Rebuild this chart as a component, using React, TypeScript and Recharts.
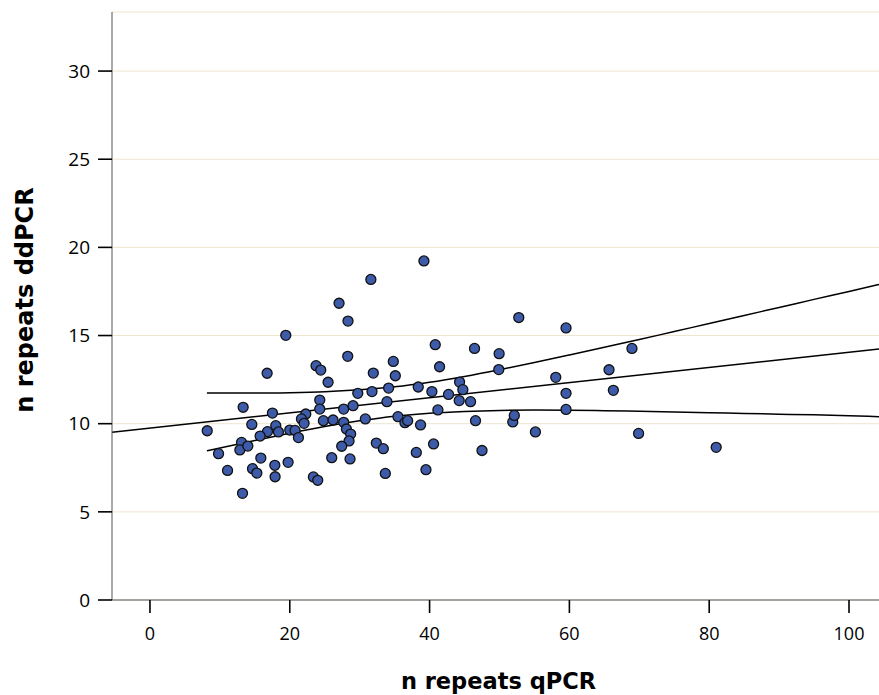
import React from "react";
import {
  ComposedChart,
  Scatter,
  Line,
  XAxis,
  YAxis,
  CartesianGrid,
  Label,
} from "recharts";

// qPCR repeat counts (x) and ddPCR repeat counts (y)
const qpcr: number[] = [
  31.6, 27.05, 28.33, 19.43, 28.29, 16.76, 23.76, 24.43, 25.48, 24.29,
  29.73, 13.33, 17.52, 22.29, 24.29, 27.71, 29.05, 21.67, 22.05, 30.81,
  8.19, 14.57, 18.0, 16.81, 15.76, 18.38, 20.0, 20.76, 21.24, 24.81,
  26.19, 27.71, 28.1, 28.71, 28.48, 27.43, 13.1, 12.86, 14.0, 9.81,
  15.86, 19.76, 17.86, 26.0, 28.62, 11.1, 14.67, 15.29, 17.9, 23.38,
  24.0, 13.24, 39.19, 52.76, 40.81, 46.43, 49.95, 34.81, 41.43, 31.95,
  35.1, 49.9, 44.29, 44.76, 31.76, 34.14, 38.38, 40.33, 42.71, 44.24,
  45.86, 33.9, 41.19, 35.48, 36.48, 36.86, 38.71, 46.57, 51.9, 52.12,
  55.14, 32.38, 33.38, 38.1, 40.57, 47.5, 33.67, 39.48, 59.52, 68.95,
  58.05, 65.67, 59.52, 66.29, 59.52, 69.9, 81.0,
];
const ddpcr: number[] = [
  18.18, 16.83, 15.82, 15.01, 13.82, 12.86, 13.29, 13.04, 12.35, 11.34,
  11.72, 10.93, 10.6, 10.55, 10.83, 10.83, 11.02, 10.27, 10.02, 10.27,
  9.6, 9.96, 9.89, 9.55, 9.3, 9.53, 9.64, 9.62, 9.21, 10.17,
  10.21, 10.08, 9.7, 9.41, 9.02, 8.72, 8.94, 8.51, 8.73, 8.3,
  8.05, 7.81, 7.64, 8.07, 8.0, 7.35, 7.45, 7.2, 6.99, 6.98,
  6.79, 6.05, 19.23, 16.02, 14.48, 14.27, 13.97, 13.53, 13.23, 12.87,
  12.72, 13.07, 12.36, 11.93, 11.82, 12.02, 12.08, 11.82, 11.66, 11.31,
  11.25, 11.25, 10.78, 10.4, 10.06, 10.17, 9.93, 10.17, 10.1, 10.47,
  9.53, 8.9, 8.58, 8.37, 8.85, 8.48, 7.18, 7.39, 15.43, 14.27,
  12.63, 13.06, 11.72, 11.89, 10.81, 9.45, 8.66,
];

// fitted line end points
const fitX: number[] = [-5.43, 104.29];
const fitY: number[] = [9.52, 14.23];

// confidence band
const bandX: number[] = [8.15, 15, 20, 25, 30, 35, 40, 45, 50, 55, 60, 65, 70, 75, 80, 85, 90, 95, 100, 104.29];
const bandUpper: number[] = [11.74, 11.74, 11.76, 11.81, 11.92, 12.09, 12.35, 12.68, 13.06, 13.47, 13.9, 14.34, 14.77, 15.23, 15.68, 16.14, 16.59, 17.05, 17.5, 17.9];
const bandLower: number[] = [8.46, 9.05, 9.46, 9.84, 10.16, 10.42, 10.59, 10.69, 10.75, 10.77, 10.76, 10.74, 10.7, 10.66, 10.62, 10.58, 10.54, 10.5, 10.45, 10.4];

const xTicks: number[] = [0, 20, 40, 60, 80, 100];
const yTicks: number[] = [0, 5, 10, 15, 20, 25, 30];

const points = qpcr.map((x, i) => ({ x, y: ddpcr[i] }));
const fitData = fitX.map((x, i) => ({ x, y: fitY[i] }));
const upperData = bandX.map((x, i) => ({ x, y: bandUpper[i] }));
const lowerData = bandX.map((x, i) => ({ x, y: bandLower[i] }));

const Dot = (props: any) => {
  const { cx, cy } = props;
  if (cx == null || cy == null) return null;
  return <circle cx={cx} cy={cy} r={5} fill="#3d5ba8" stroke="#111" strokeWidth={1.3} />;
};

export default function App() {
  return (
    <div style={{ width: 879, height: 695, overflow: "hidden" }}>
      <style>{"html,body{margin:0;padding:0;overflow:hidden;}"}</style>
      <ComposedChart
        width={879}
        height={695}
        margin={{ top: 12, right: 0, bottom: 0, left: 0 }}
      >
        <CartesianGrid vertical={false} stroke="#ede5cf" strokeWidth={1} />
        <XAxis
          type="number"
          dataKey="x"
          domain={[-5.43, 104.29]}
          allowDataOverflow
          ticks={xTicks}
          height={95}
          tickSize={13}
          tickMargin={14}
          axisLine={{ stroke: "#555", strokeWidth: 1 }}
          tickLine={{ stroke: "#000", strokeWidth: 1.6 }}
          tick={{ fill: "#000", fontSize: 18, fontFamily: "Open Sans" }}
        >
          <Label
            content={(p: any) => {
              const vb = p.viewBox || {};
              return (
                <text
                  x={vb.x + vb.width / 2 + 3}
                  y={689}
                  textAnchor="middle"
                  fontFamily="DejaVu Sans"
                  fontWeight="bold"
                  fontSize={22.5}
                  fill="#000"
                >
                  n repeats qPCR
                </text>
              );
            }}
          />
        </XAxis>
        <YAxis
          type="number"
          dataKey="y"
          domain={[0, 33.35]}
          allowDataOverflow
          ticks={yTicks}
          width={112}
          tickSize={14}
          tickMargin={8}
          axisLine={{ stroke: "#555", strokeWidth: 1 }}
          tickLine={{ stroke: "#000", strokeWidth: 1.6 }}
          tick={{ fill: "#000", fontSize: 19, fontFamily: "Open Sans" }}
        >
          <Label
            content={() => (
              <text
                x={33}
                y={300}
                transform="rotate(-90, 33, 300)"
                textAnchor="middle"
                fontFamily="DejaVu Sans"
                fontWeight="bold"
                fontSize={24}
                fill="#000"
              >
                n repeats ddPCR
              </text>
            )}
          />
        </YAxis>
        <Line
          data={fitData}
          dataKey="y"
          type="linear"
          stroke="#000"
          strokeWidth={1.5}
          dot={false}
          activeDot={false}
          isAnimationActive={false}
        />
        <Line
          data={upperData}
          dataKey="y"
          type="monotone"
          stroke="#000"
          strokeWidth={1.5}
          dot={false}
          activeDot={false}
          isAnimationActive={false}
        />
        <Line
          data={lowerData}
          dataKey="y"
          type="monotone"
          stroke="#000"
          strokeWidth={1.5}
          dot={false}
          activeDot={false}
          isAnimationActive={false}
        />
        <Scatter
          data={points}
          dataKey="y"
          shape={<Dot />}
          isAnimationActive={false}
        />
      </ComposedChart>
    </div>
  );
}
